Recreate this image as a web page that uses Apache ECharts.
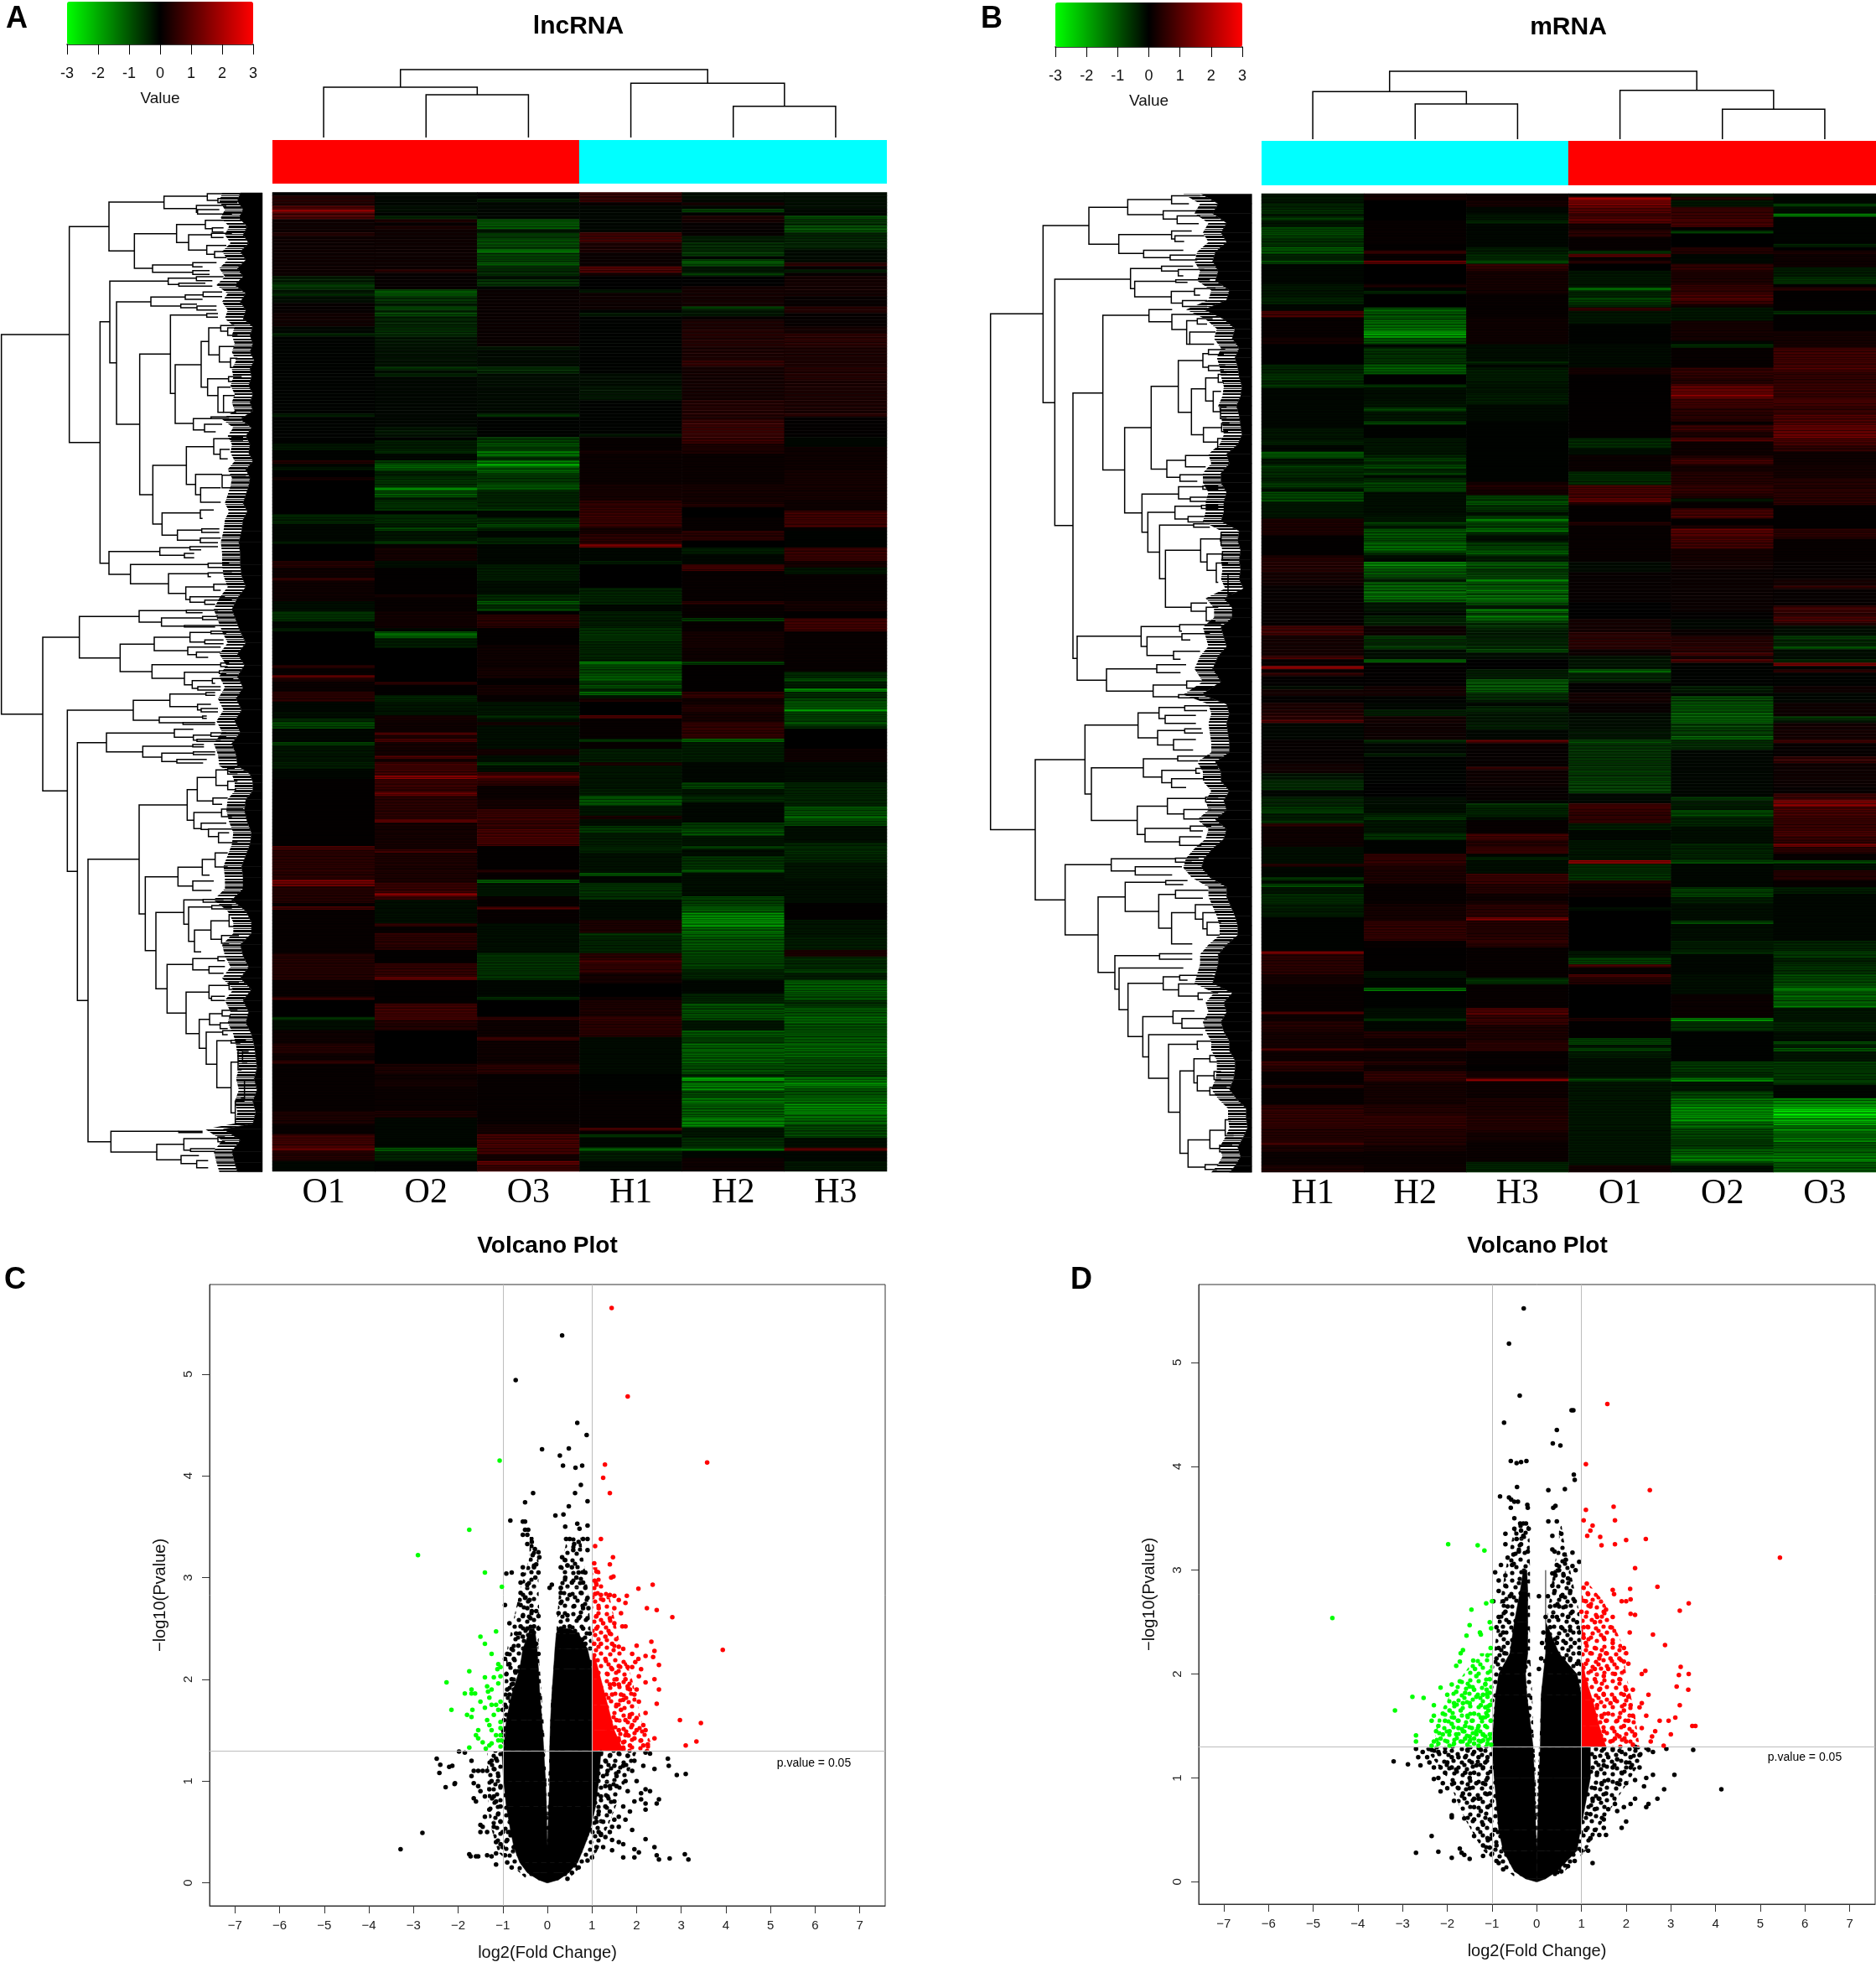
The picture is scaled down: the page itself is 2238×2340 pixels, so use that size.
<!DOCTYPE html>
<html><head><meta charset="utf-8">
<style>html,body{margin:0;padding:0;background:#fff}#c{width:2238px;height:2340px}</style>
<script src="https://cdn.jsdelivr.net/npm/echarts@6/dist/echarts.min.js"></script>
</head><body><div id="c"></div>
<script>
// ---------- heat map values: flat pairs (first row of a band, value), 292 rows per column ----------
const samplesA=['O1','O2','O3','H1','H2','H3'];
const samplesB=['H1','H2','H3','O1','O2','O3'];
const groupsA=['O','O','O','H','H','H'];
const groupsB=['H','H','H','O','O','O'];
const sideValues=[1,1,1,1,1,1];

const A_O1=[0,0,1,.5,4,1,5,2,6,1.1,8,.2,12,.5,13,.2,25,-.4,27,-.8,29,-.3,30,-.6,31,-.2,33,.1,36,.25,40,-.1,42,-.5,43,-.05,66,-.4,67,-.05,75,-.3,77,-.05,80,.5,81,-.1,82,-.3,83,0,85,.3,86,0,96,-.5,99,-.1,104,-.35,105,0,110,.5,112,.2,115,.7,116,.2,122,-.2,125,-.7,128,-.1,130,-.4,131,0,141,.6,142,.1,144,1.4,145,.4,146,.15,149,.6,152,-.1,155,-.2,157,-.6,158,-1,160,-.1,164,-.9,165,-.3,170,-.4,172,-.1,175,.05,195,1,196,.6,205,1.6,207,.5,212,.1,213,1,214,.1,227,.5,235,.1,240,.8,241,0,246,-.7,247,-.2,250,.2,254,.5,257,.2,259,.7,260,.1,274,.4,278,.1,281,.9,285,1.5,286,.5,289,-.1];
const A_O2=[0,-.1,4,-.2,6,-.05,7,-.5,8,.4,9,.1,10,.4,11,.2,23,.6,24,.1,29,-1.2,31,-.7,33,-.4,34,-1,35,-.6,36,-1,37,-.5,40,-.6,43,-.3,46,-.25,52,-.7,53,-.2,54,-.5,55,-.1,70,-.3,73,-.05,74,-.4,77,-.6,78,-.1,80,-.8,81,-1.3,83,-.5,85,-.7,88,-1.9,89,-1,90,-1.3,91,-.4,92,-.7,95,0,96,-.6,99,-.4,100,-.9,101,-.3,104,-.8,105,.1,106,.3,110,-.2,112,.05,120,.3,121,.1,125,.25,130,-.1,131,-1.5,133,-.4,136,0,146,.6,147,.05,150,-.5,152,-.3,156,.3,158,.2,161,1,162,.4,163,1,164,.3,168,1,169,.3,170,.9,174,1.9,175,.8,179,1.6,180,.6,187,1.3,188,.3,196,.9,197,.4,206,.8,209,1.9,210,.8,211,-.2,218,.7,219,.1,221,.7,222,.6,226,.05,230,.7,234,1.4,235,.05,242,.9,247,.5,250,0,260,.4,263,.2,265,.3,267,.15,274,.4,276,-.1,285,-1.3,286,-.5,289,-.05];
const A_O3=[0,0,2,-.4,3,-.1,8,-1.2,11,-.3,12,-.8,14,-1.1,16,-.8,17,-1.7,18,-.9,21,-1.2,22,-.6,25,-.2,26,-.7,28,-.1,29,.15,46,-.3,47,-.15,52,-.6,54,-.2,58,-.15,66,-.7,67,-.05,73,-.9,75,-1.1,76,-.8,77,-1.6,79,-.6,80,-1.7,81,-2.2,82,-1.3,84,-.8,87,-1.2,89,-.5,94,-.8,95,-.1,97,-.6,99,-1,100,-.5,101,-.1,103,-.5,105,-.1,111,-.4,116,-.2,120,-.6,122,-1.2,123,-.6,124,-.9,125,0,126,.6,130,.05,135,.2,142,.3,145,.05,147,.3,150,.1,152,-.3,156,-.6,157,-.2,158,.3,159,-.2,166,.3,168,-.2,170,-.7,171,-.2,173,.8,174,1.4,175,.7,177,.15,181,.3,184,.8,189,.7,190,1,195,.05,202,.5,203,.1,205,-1.3,206,-.3,210,.1,213,1,214,.1,218,-.2,227,-.7,235,-.1,240,-.6,241,0,246,.7,247,.2,252,.9,253,.2,260,.6,263,.1,278,.3,281,1,285,.9,287,.3,289,1.4,290,.8];
const A_H1=[0,.7,3,.1,4,-.1,12,.9,15,.4,18,.15,22,1.1,24,.3,25,0,29,-.3,30,.2,35,-.05,36,-.4,37,-.05,54,-.2,58,-.3,62,-.05,72,-.3,73,.1,77,.3,78,.15,87,.3,92,.7,95,.8,100,.3,102,.6,105,1.9,106,-.1,110,-.4,111,0,118,-.5,123,-.1,125,-.4,130,-.7,134,-.5,140,-1.7,141,-1,144,-1.3,146,-.7,147,-1.1,148,-.5,149,-1.5,150,-.3,151,.4,152,0,156,1.1,157,.1,163,-.7,164,.1,166,-.4,170,.4,171,-.3,178,-.4,180,-1.2,183,-.3,186,.4,187,-.2,189,-.8,191,-.4,195,-.5,197,-.25,203,-1.2,204,-.1,206,-.7,211,-.15,217,.4,221,-.8,222,-.5,227,.6,229,1,230,.7,233,.3,236,0,240,.2,241,.4,246,.8,247,.6,252,-.15,263,-.05,268,.1,279,.9,280,.1,281,-.7,282,-.1,285,-1.4,286,-.4,289,-.1];
const A_H2=[0,-.2,2,-.1,3,.3,4,-.1,5,-.9,6,-.05,7,.4,9,.1,13,-.4,15,-.6,18,-.9,19,-.1,20,-1.2,22,-.3,24,-.8,25,0,28,.3,34,-.9,35,-.3,37,.1,38,.4,41,.5,46,.4,50,.7,52,.3,62,.5,68,.8,75,.4,78,.15,87,.3,93,.5,94,0,97,.1,101,.6,104,0,106,-.4,108,-.1,111,.9,113,.1,122,.6,123,.1,127,-.8,128,.1,131,.3,136,.2,140,-.9,141,.05,149,.7,151,.2,152,.3,153,.5,155,.3,158,.7,163,-1.3,164,-.4,170,-.1,176,-.9,178,-.3,180,-.6,182,-.1,188,-.8,190,-1.1,192,-.3,195,-.8,196,-.2,198,-.7,202,-1.2,203,-.2,210,-.9,213,-1.3,215,-1.9,216,-2,219,-1.5,222,-1.2,226,-1,229,-.9,232,-.5,235,-.1,239,-.5,242,-1.1,247,-.3,250,-1.2,252,-.9,254,-1.4,257,-1.3,260,-1.1,263,-.5,264,-2.4,265,-1.3,266,-1.9,268,-1,270,-1.6,272,-1.3,276,-1.8,278,-2,279,-.3,282,-.6,285,-1.4,286,-.1,288,.2];
const A_H3=[0,-.2,5,-.1,7,-1,8,-.7,10,-1.1,12,-.5,17,-.15,21,.7,22,.1,23,-.4,24,.1,25,.3,31,.1,34,.5,36,.1,40,.3,42,.6,46,.4,52,.5,56,.4,66,.6,67,.05,73,-.1,76,.2,83,.3,92,.2,95,.9,100,.1,101,-.05,106,.8,110,.3,112,-.3,114,.1,122,.3,125,.05,127,.9,131,.1,143,-.6,145,-1,146,-.4,148,-1.8,149,-.6,151,-1,152,-1.2,154,-2,155,-.9,158,-1.1,159,-.7,160,0,166,.2,170,-.15,176,-.5,183,-1.1,186,-1.5,187,-1,189,-.2,194,-.6,198,-.5,200,-.3,205,-.2,212,.05,217,-.3,222,-.4,226,.4,228,-.6,232,-.9,233,-.4,235,-1.3,239,-1.1,241,-.7,243,-1.2,246,-1.4,248,-1.1,250,-1.2,253,-1.4,258,-1.1,262,-.8,264,-1.5,265,-1.9,267,-1.2,270,-1.5,272,-1.9,275,-1.5,278,-1,282,-.2,285,1.3,286,-.1,289,-.3];
const B_H1=[0,-.3,3,-.5,5,-.7,6,-.3,7,-.9,8,-.3,10,-1,13,-.7,16,-1.2,18,-.5,20,-1.1,21,-.1,27,-.3,31,-.5,33,-.1,35,1,37,.1,43,.3,45,0,51,-.5,54,-.7,56,-.5,57,-.8,58,-.1,70,-.3,74,-.5,75,-.1,77,-1.2,79,-.3,81,-.9,82,-.6,85,-.4,86,-.8,88,-.2,89,-1,92,-.3,97,.4,102,.05,108,.5,113,.3,117,.1,129,.9,132,.3,138,1,139,.1,141,2,142,.1,143,.8,144,.05,147,-.2,148,.3,150,.05,152,.4,155,.6,157,1.1,158,-.1,163,.1,170,.25,173,-.3,175,-.6,178,-.1,180,-.5,183,-.7,184,-.9,185,-.4,187,-.7,188,.6,189,.2,195,-.2,200,.5,201,-.1,204,-.7,205,-.2,206,-1,207,-.3,209,-.6,212,-.4,216,-.05,226,1.6,227,.6,233,.3,236,.1,244,1,245,.2,247,.5,250,.3,255,1,256,.2,259,.9,260,.6,262,.1,266,.6,267,.1,272,.7,279,.5,283,.9,284,.4,286,.15,290,.4];
const B_H2=[0,.3,2,0,8,.1,15,.05,17,.8,18,.1,20,1.4,21,0,27,.4,28,-.05,29,-.5,30,0,34,-1.3,36,-1.2,38,-1.5,41,-2.3,43,-1.2,45,-.1,46,-.7,51,-1.2,52,-1.3,53,-1.2,54,0,57,-.7,58,-.2,62,-.3,64,-1,65,-.3,68,-1,69,-.05,73,-.3,78,-.5,79,-.9,80,-.5,81,-1.1,82,-.5,83,-.9,84,-.2,85,-.6,86,-1,87,-.8,88,-1,89,-.2,96,-.3,98,-.9,99,-.3,100,-1.2,103,-1,104,-1.4,106,-1.6,107,-.6,108,-.2,109,-.1,110,-1.9,111,-1.5,112,-1.2,114,-1,115,-.4,116,-1.3,118,-1.5,121,-1.3,122,-.3,125,-.1,126,-.5,129,.2,132,-.8,133,-.6,134,-.5,135,-.9,136,-.2,139,-1.3,140,.05,147,.3,150,-.05,152,-.1,154,-.4,156,.3,158,.2,163,-.6,164,-.1,167,-.4,168,-.05,176,0,180,-.2,185,-.5,186,-.7,187,-.3,191,-.7,193,-.05,197,.7,200,.6,201,.4,206,.1,212,.3,217,.7,223,.1,225,.05,232,-.3,234,-.1,237,-1.5,238,-.05,243,-.2,246,-.6,247,-.1,250,.5,252,.2,255,.7,256,.2,259,.6,260,.2,262,.7,265,.3,272,.5,275,.7,279,.5,284,.3,286,.15,290,.2];
const B_H3=[0,.2,2,.3,4,-.1,6,-.3,8,-.5,9,-.1,16,-.4,18,-.6,20,-1,21,.7,23,.3,30,.1,37,.2,45,-.2,50,-.5,51,-.1,52,-.4,56,-.3,60,-.4,63,-.15,68,-.05,86,.3,87,.5,88,.3,90,-.9,92,-1.2,93,-.7,95,-.2,96,-.8,97,-1.7,98,-.9,100,-1.6,101,-.6,102,-.2,104,-.9,106,-1.1,107,-1.3,108,-.4,110,-1.3,111,-1.1,112,-.7,113,-.9,115,-1.7,116,-1.2,118,-1.6,119,-1.2,120,-1.5,122,-1,123,-.3,124,-1.7,125,-.9,126,-1.7,127,-1.1,128,-.7,130,-.4,133,-.5,135,-.6,136,-1,137,-.2,139,0,142,-.4,145,-1.2,149,-.6,151,-.4,152,-.1,153,-.5,155,-.3,158,-.4,160,-.1,163,1.4,164,.1,171,.7,172,.2,177,.1,181,-.1,182,-.7,183,-.5,186,-.2,187,.1,191,.9,193,.5,195,.8,197,-.1,198,-.5,199,-.2,203,.8,206,.5,209,.2,211,.3,212,.6,216,1.7,217,.5,222,.7,224,.5,225,.1,234,-.7,236,.1,243,1,244,1.2,245,.8,248,.4,253,.6,256,.1,260,.05,262,.3,264,1.8,265,.2,270,.4,275,.5,280,.3,283,.15,289,-.5];
const B_O1=[0,-.05,1,2.2,2,1.7,4,1.2,6,.8,7,1.2,9,.3,11,.6,13,.1,17,-.7,18,1.2,19,.1,20,.6,21,0,23,-.3,28,-1.5,29,-.5,31,-.9,33,-.5,34,.7,35,-.3,39,-.05,45,-.15,52,.3,54,.05,73,-.6,76,-.2,78,.15,83,-.6,87,1,90,.9,91,1.6,92,.5,93,.05,98,.5,99,.1,110,-.15,113,.1,122,0,127,.3,131,.6,136,.2,138,-.3,142,-1.4,143,-.5,146,.05,149,.3,152,.1,155,-.2,160,-.3,163,-1,164,-.7,172,-.8,175,-.9,179,-.1,182,.9,184,.7,188,-.4,190,-.1,193,-.3,199,1.9,200,-.6,203,-.7,205,.6,206,.2,210,0,213,-.2,214,0,226,-.3,228,-.9,230,1,231,.1,233,1,234,.5,236,0,246,.4,247,.05,252,-.9,254,-.3,255,-1,256,-.4,258,-.2,264,-1,265,-.3,290,.3];
const B_O2=[0,-.4,1,.6,2,-.3,4,.8,7,1,10,.05,11,-.8,12,0,16,.5,18,-.1,21,.7,23,.4,27,.7,30,1.1,32,.8,33,.3,34,-.3,38,.3,44,-.1,45,-.7,46,.1,52,.7,55,.5,57,1.4,60,1.9,61,.9,64,.6,68,.1,69,.8,71,.4,73,1.2,74,.2,78,.4,79,.9,81,.3,83,.5,87,.7,90,.4,91,-.3,92,.1,94,1,97,.05,99,.4,100,1.3,102,1,104,.9,106,.3,112,.15,125,.05,127,-.1,130,.15,132,.5,135,.6,137,.9,138,.3,139,1.2,140,-.05,147,-.4,149,-.1,150,-1,152,-1.1,155,-1.3,158,-.9,162,-1.3,163,-.6,166,-.1,180,-.8,181,-.4,184,-1,186,-.5,189,-.2,194,-.5,199,-1,200,-.1,207,-.9,210,-.4,212,-.2,217,-1,218,-.2,223,-.4,226,-.6,227,-.1,233,-.2,239,.15,246,-1.9,247,-.7,250,-.05,259,-.8,262,-.6,264,-2,265,-.3,268,-1,270,-1.5,272,-2,277,-1.5,279,-1,282,-.8,285,-1.3,287,-1.7,289,-1,290,-.2];
const B_O3=[0,-.1,3,-.9,4,-.2,6,-1.7,7,-.05,15,-.5,16,0,17,.4,18,.2,22,-.4,25,-.7,27,.05,28,.6,29,.05,35,-.7,36,.05,41,.3,46,.9,52,1.2,53,.7,57,.8,60,.7,61,1,63,.8,66,1.1,68,1,69,1.4,72,1.6,73,1,75,.7,77,.2,81,.3,85,.5,88,.6,93,.05,100,.6,103,.1,115,.3,117,.7,118,.1,123,.9,125,.6,126,1,128,.5,129,-.2,132,-.8,133,-.5,135,-1.1,136,-.2,139,-.5,140,1.7,141,-.05,142,.6,143,-.05,147,.2,149,-.1,152,.2,156,-.8,157,-.3,158,.3,163,.9,164,.1,168,.7,170,.2,177,.1,179,.8,181,1.9,183,1,186,.8,190,1,192,.7,194,1.5,195,.6,197,.1,199,-1,200,-.2,202,.5,205,.1,207,-.4,209,-.1,223,-.5,226,-.8,228,-.5,230,-.7,233,-1,236,-1.2,237,-1.9,238,-1.2,239,-1.4,242,-1.6,243,-.3,247,-.5,250,-.2,253,-1,254,-.4,255,-1.3,256,-.3,259,-.8,264,-.9,266,-.1,270,-1.9,272,-2.4,273,-3,276,-2.4,278,-1.5,279,-2,280,-1.4,282,-1.9,283,-1.2,285,-1.4,287,-1.9,289,-1.2];
const ROWS=292;

// ---------- column dendrograms: [x1,h1,x2,h2,mergeHeight] ----------
const colTreeA=[[1,0,2,0,.63],[0,0,1.5,.63,.74],[4,0,5,0,.46],[3,0,4.5,.46,.80],[.75,.74,3.75,.80,1]];
const colTreeB=[[1,0,2,0,.52],[0,0,1.5,.52,.70],[4,0,5,0,.44],[3,0,4.5,.44,.72],[.75,.70,3.75,.72,1]];

// ---------- row dendrograms: [mergeX, y1, childX1, y2, childX2] in tree units ----------
const rowTreeA=[[5,537,248,1895,153],[248,151,390,923,358],[390,63,587,238,481],[587,42,742,86,703],[742,33,800,57,780],[780,50,860,65,850],[703,75,810,100,707],[707,90,785,106,830],[481,176,632,300,546],[632,143,735,208,675],[735,128,800,158,760],[760,155,800,170,800],[675,180,757,235,740],[757,175,830,190,800],[740,218,810,250,768],[768,240,830,262,810],[546,288,690,314,690],[690,280,775,295,725],[690,308,750,322,750],[358,491,393,1355,390],[393,346,602,638,417],[602,335,703,358,640],[703,330,800,344,760],[640,353,735,364,760],[417,420,540,858,500],[540,403,663,435,647],[663,395,727,411,725],[727,385,795,401,795],[647,428,705,441,705],[705,435,775,449,775],[500,607,610,1110,547],[610,467,740,748,627],[740,462,780,475,780],[627,645,720,855,692],[720,562,747,725,743],[747,513,790,610,785],[790,505,838,525,815],[815,513,850,540,850],[785,580,838,635,825],[825,622,850,655,842],[743,695,818,755,780],[818,688,865,705,855],[780,725,825,815,800],[800,755,840,815,845],[692,838,755,878,732],[755,832,820,838,820],[732,858,795,885,772],[547,1005,667,1215,580],[667,938,765,1073,700],[765,910,830,965,788],[830,905,870,915,870],[788,948,822,982,815],[700,1037,795,1110,718],[795,1040,880,1085,870],[718,1085,790,1137,790],[580,1175,717,1255,635],[717,1165,765,1195,725],[635,1237,722,1273,717],[722,1232,785,1245,785],[717,1265,790,1282,780],[390,1313,572,1395,467],[572,1300,680,1327,660],[680,1296,780,1307,720],[660,1320,695,1336,695],[467,1360,745,1429,603],[745,1355,820,1370,805],[603,1393,745,1463,665],[745,1390,830,1403,755],[665,1440,765,1485,680],[765,1430,840,1452,790],[680,1475,805,1495,733],[733,1487,830,1502,770],[153,1620,284,2170,240],[284,1546,498,1694,430],[498,1525,667,1566,578],[667,1523,780,1532,725],[578,1551,725,1580,660],[725,1546,780,1557,780],[660,1578,790,1583,770],[430,1645,552,1743,544],[552,1620,680,1668,672],[680,1603,755,1637,733],[755,1598,815,1607,810],[733,1630,800,1643,800],[672,1655,790,1682,703],[703,1673,790,1692,745],[544,1718,790,1767,660],[790,1712,820,1725,815],[660,1745,785,1790,688],[785,1740,810,1750,810],[688,1775,760,1803,708],[760,1768,835,1785,770],[708,1797,790,1809,790],[241,1881,477,2458,277],[477,1846,608,1917,570],[608,1823,737,1868,707],[737,1818,770,1828,770],[707,1860,755,1880,720],[720,1875,780,1887,780],[570,1906,725,1926,655],[725,1902,740,1910,740],[655,1925,770,1932,770],[277,1997,381,2920,315],[381,1963,624,2030,511],[624,1949,692,1978,692],[692,1970,755,1988,705],[755,1962,810,1975,810],[705,1985,790,1993,790],[511,2010,690,2049,579],[690,2004,730,2012,730],[579,2035,692,2065,633],[692,2030,770,2040,770],[633,2057,740,2070,727],[315,2414,498,3425,397],[498,2220,670,2610,520],[670,2165,706,2275,694],[706,2122,773,2206,762],[773,2095,815,2150,815],[815,2090,840,2110,850],[815,2135,850,2165,845],[762,2195,815,2218,795],[694,2247,793,2305,720],[793,2235,870,2262,830],[720,2285,810,2308,746],[746,2306,850,2333,782],[782,2320,820,2355,850],[770,2392,815,2442,815],[724,2415,770,2471,750],[637,2443,724,2510,690],[690,2492,765,2526,757],[520,2477,637,2741,558],[558,2605,658,2878,598],[658,2560,727,2647,675],[727,2558,800,2568,790],[675,2585,758,2708,696],[758,2580,830,2592,830],[696,2668,755,2746,720],[755,2635,820,2701,793],[820,2612,850,2655,848],[793,2687,855,2715,820],[598,2791,690,2965,666],[690,2770,780,2810,748],[780,2763,850,2777,805],[748,2798,805,2822,800],[666,2890,748,3038,713],[748,2866,820,2912,757],[820,2853,855,2880,840],[757,2905,805,2920,805],[713,2987,750,3091,738],[750,2967,795,3007,788],[795,2955,850,2975,825],[788,3000,830,3020,815],[738,3033,797,3148,776],[797,3028,880,3042,815],[776,3064,827,3232,827],[827,3062,880,3072,860],[827,3140,852,3322,842],[852,3100,868,3168,865],[868,3102,890,3140,885],[842,3281,875,3360,845],[875,3205,900,3270,862],[397,3388,640,3462,561],[640,3388,725,3392,725],[561,3434,658,3490,648],[658,3414,780,3455,682],[780,3408,805,3425,805],[682,3450,770,3460,770],[648,3475,712,3503,704],[704,3493,745,3518,745]];
const rowTreeB=[[35,403,223,2011,195],[223,128,387,680,265],[387,71,526,186,494],[526,47,683,94,653],[683,35,785,60,745],[653,82,860,108,703],[703,98,785,122,780],[494,156,683,215,583],[683,145,755,170,695],[695,160,800,178,728],[583,205,725,228,678],[678,220,770,235,775],[265,295,536,1063,330],[536,262,647,325,551],[647,255,760,270,707],[707,265,800,285,725],[551,302,698,350,682],[698,297,820,305,740],[682,333,765,370,722],[765,325,840,345,785],[722,362,810,380,810],[330,650,437,1477,345],[437,408,602,890,515],[602,390,685,428,684],[684,405,830,452,737],[737,425,775,498,748],[775,418,830,435,810],[748,460,840,498,835],[515,758,610,1024,577],[610,629,707,887,666],[707,549,795,710,754],[795,527,815,570,815],[815,515,875,530,870],[815,565,875,580,870],[754,637,805,780,797],[805,603,850,675,832],[850,592,880,617,870],[832,645,860,708,858],[858,695,880,730,880],[797,758,862,803,848],[862,745,890,770,885],[848,792,880,825,880],[666,860,733,913,713],[733,845,830,880,805],[713,905,810,925,775],[577,965,708,1084,598],[708,942,795,980,750],[795,940,850,950,850],[750,975,850,988,850],[598,1022,695,1146,640],[695,1003,790,1043,742],[790,1000,850,1010,850],[742,1035,800,1052,800],[640,1062,762,1229,661],[762,1058,820,1068,820],[661,1140,787,1318,753],[787,1105,860,1177,810],[860,1085,905,1125,890],[810,1152,865,1203,843],[865,1145,890,1170,890],[843,1180,885,1240,850],[885,1215,915,1280,920],[753,1305,810,1330,807],[807,1318,850,1360,840],[345,1408,574,1545,450],[574,1378,712,1440,595],[712,1372,860,1392,720],[720,1400,820,1420,750],[595,1410,720,1468,690],[690,1455,785,1480,715],[450,1510,630,1579,617],[630,1497,735,1522,715],[617,1560,737,1597,708],[737,1548,825,1570,845],[708,1590,800,1600,780],[195,1793,373,2230,302],[373,1685,563,1900,396],[563,1647,638,1725,633],[638,1630,730,1665,660],[730,1625,830,1640,810],[660,1655,770,1680,770],[633,1702,730,1747,690],[730,1697,790,1710,795],[690,1730,770,1763,760],[396,1818,582,1982,560],[582,1790,705,1847,648],[705,1782,820,1797,778],[648,1826,770,1865,683],[770,1820,850,1835,785],[683,1852,800,1880,735],[560,1938,668,2026,588],[668,1914,805,1962,727],[805,1910,850,1925,825],[727,1948,825,1978,795],[588,2007,750,2049,712],[750,2000,825,2015,795],[712,2033,790,2060,790],[302,2120,467,2339,420],[467,2102,697,2140,553],[697,2100,780,2112,755],[553,2127,720,2152,685],[420,2221,517,2456,480],[517,2175,662,2266,637],[662,2170,740,2182,725],[637,2213,697,2318,683],[697,2200,815,2225,795],[683,2270,768,2367,757],[768,2245,830,2290,795],[795,2270,850,2320,810],[810,2300,860,2340,855],[480,2404,640,2508,495],[640,2398,757,2415,757],[495,2442,725,2572,527],[527,2490,653,2656,580],[653,2470,712,2510,708],[712,2465,830,2480,740],[708,2492,775,2530,778],[778,2520,850,2540,795],[580,2594,688,2719,601],[688,2576,765,2615,720],[720,2600,810,2630,805],[601,2650,795,2786,672],[672,2680,775,2892,713],[775,2670,885,2695,780],[713,2763,763,3020,742],[763,2725,820,2800,775],[820,2715,855,2735,855],[775,2778,835,2825,820],[835,2765,860,2790,860],[820,2815,880,2838,875],[742,2978,820,3063,803],[820,2948,875,3005,855],[875,2915,895,2965,905],[855,2995,900,3015,880],[803,3055,850,3070,845]];
// dense leaf block of each row dendrogram: [y, left edge x]
const leavesA=[[30,860],[60,850],[90,870],[120,855],[150,885],[180,870],[210,890],[240,860],[270,880],[300,850],[330,870],[360,840],[390,880],[420,860],[450,880],[480,870],[510,905],[540,895],[570,905],[600,895],[630,910],[660,895],[690,900],[720,890],[750,905],[780,895],[810,905],[840,860],[870,900],[900,880],[930,895],[960,890],[990,905],[1020,880],[1050,895],[1080,890],[1110,880],[1140,870],[1170,885],[1200,870],[1240,865],[1280,855],[1320,860],[1360,860],[1400,865],[1440,880],[1480,850],[1520,830],[1560,845],[1600,860],[1640,880],[1680,850],[1720,875],[1760,850],[1800,870],[1840,845],[1880,865],[1920,840],[1960,860],[2000,830],[2040,845],[2080,850],[2110,895],[2140,905],[2170,905],[2200,880],[2240,875],[2280,885],[2320,900],[2360,895],[2400,880],[2440,865],[2480,870],[2520,870],[2560,830],[2600,880],[2640,900],[2680,900],[2720,860],[2760,870],[2800,890],[2840,860],[2880,900],[2920,870],[2960,890],[3000,880],[3040,900],[3080,910],[3120,915],[3160,920],[3200,910],[3240,920],[3280,905],[3320,915],[3360,905],[3380,800],[3420,860],[3460,830],[3500,840],[3533,850]];
const leavesB=[[30,790],[60,850],[90,830],[120,880],[150,860],[180,880],[210,840],[240,830],[270,850],[300,840],[330,890],[360,880],[390,800],[420,870],[450,910],[480,900],[510,925],[540,910],[570,920],[600,925],[630,935],[660,930],[690,915],[720,925],[750,930],[780,935],[810,920],[840,880],[870,890],[900,860],[930,860],[960,880],[990,870],[1020,870],[1050,860],[1080,925],[1110,920],[1140,930],[1170,925],[1200,930],[1230,925],[1260,940],[1290,870],[1320,900],[1350,900],[1380,860],[1410,870],[1440,880],[1470,850],[1510,830],[1550,860],[1590,790],[1620,880],[1650,890],[1680,880],[1710,885],[1740,890],[1770,890],[1800,840],[1830,860],[1860,860],[1890,890],[1920,870],[1950,880],[1980,840],[2010,880],[2040,870],[2070,830],[2100,800],[2130,790],[2160,820],[2190,880],[2220,880],[2250,895],[2280,910],[2310,920],[2340,920],[2370,880],[2400,850],[2430,850],[2460,840],[2490,830],[2520,900],[2550,870],[2580,880],[2610,860],[2640,870],[2670,890],[2700,890],[2730,910],[2760,910],[2790,905],[2820,890],[2850,915],[2880,950],[2910,950],[2940,955],[2970,940],[3000,920],[3030,930],[3060,910],[3079,890]];

// ---------- volcano plots ----------
const ticksX=[-7,-6,-5,-4,-3,-2,-1,0,1,2,3,4,5,6,7];
const ticksY=[0,1,2,3,4,5];
const foldCut=[-1,1];
const pCut=1.3;
// dense core of the black cloud: [y, left outer, left inner, right inner, right outer]
const coreC=[[0,-.02,0,0,.02],[.03,-.2,0,0,.25],[.1,-.45,0,0,.48],[.2,-.62,0,0,.68],[.35,-.75,0,0,.82],[.5,-.82,-.01,.01,.95],[.75,-.92,-.02,.03,1.08],[1,-.98,-.04,.05,1.15],[1.29,-1.02,-.08,.05,1.2],[1.3,-.98,-.08,.05,1],[1.6,-.92,-.12,.07,1],[1.85,-.8,-.17,.1,1],[2.1,-.62,-.2,.14,1],[2.3,-.55,-.23,.17,.9],[2.45,-.42,-.27,.2,.7],[2.5,-.4,-.3,.25,.5]];
const coreD=[[0,-.02,0,0,.02],[.03,-.25,0,0,.2],[.1,-.5,0,0,.45],[.3,-.75,0,0,.9],[.5,-.85,-.02,.02,.98],[1,-.95,-.05,.05,1.2],[1.29,-1,-.08,.08,1.2],[1.3,-1,-.08,.08,1],[1.8,-.92,-.22,.1,1],[2,-.85,-.25,.15,.9],[2.2,-.6,-.2,.2,.5],[2.5,-.5,-.2,.2,.2],[2.8,-.37,-.2,.2,.2],[3,-.3,-.22,.2,.2]];
// thinner scatter around the core: same columns
const haloC=[[.05,-.5,0,0,.5],[.3,-1.1,0,0,1.1],[.6,-1.3,0,0,1.4],[1,-1.35,-.02,.02,1.75],[1.29,-1.35,-.05,.05,2],[1.3,-1.05,-.05,.05,1],[1.7,-1,-.1,.07,1],[2,-.95,-.15,.12,1],[2.3,-.9,-.2,.18,1],[2.6,-.75,-.18,.22,.95],[2.9,-.6,-.2,.27,.9],[3.2,-.4,-.2,.35,.8],[3.4,-.4,-.3,.45,.75]];
const haloD=[[.05,-.5,0,0,.5],[.3,-1.2,0,0,1.1],[.6,-1.6,0,0,1.5],[1,-2,-.02,.02,2.1],[1.29,-2.5,-.05,.05,2.5],[1.3,-1,-.06,.06,1],[1.8,-1,-.1,.1,1],[2.2,-.95,-.15,.15,1],[2.6,-.85,-.15,.25,.95],[3,-.7,-.15,.38,.75],[3.3,-.55,-.16,.5,.6],[3.45,-.45,-.18,.5,.55]];
// dense core of the red cloud: [y, left, right]
const redCoreC=[[1.3,1,1.7],[1.5,1,1.5],[1.75,1,1.35],[2,1,1.2],[2.25,1,1.05]];
const redCoreD=[[1.3,1,1.55],[1.5,1,1.4],[1.75,1,1.25],[1.95,1,1.1],[2.1,1,1.04]];
const redHaloC=[[1.3,1,2.4],[1.6,1,2.1],[2,1,1.9],[2.4,1,1.6],[2.8,1,1.4],[3.1,1,1.15]];
const redHaloD=[[1.3,1,2.3],[1.6,1,2.2],[2,1,2],[2.3,1,1.9],[2.7,1,1.5],[2.85,1,1.2]];
const greenHaloD=[[1.3,-2.3,-1],[1.6,-2.2,-1],[1.9,-1.8,-1],[2.2,-1.3,-1]];
const redC=[[1.44,5.65],[1.8,4.78],[3.58,4.13],[1.29,4.11],[1.25,3.98],[1.4,3.83],[1.2,3.38],[1.07,3.31],[1.47,3.2],[1.05,3.14],[1.4,3.13],[1.1,3.06],[1.43,3],[1.48,3.01],[1.06,2.97],[1.1,2.93],[2.36,2.93],[2.04,2.89],[1.07,2.84],[1.2,2.83],[1.4,2.83],[1.5,2.82],[1.78,2.82],[1.25,2.78],[1.6,2.78],[1.75,2.75],[2.23,2.7],[2.45,2.68],[2.8,2.61],[1.15,2.7],[1.5,2.7],[1.65,2.65],[1.1,2.62],[1.4,2.6],[1.5,2.55],[1.75,2.52],[1.68,2.52],[1.25,2.55],[1.1,2.5],[1.4,2.45],[1.3,2.42],[2,2.33],[2.33,2.37],[2.4,2.28],[3.93,2.29],[1.6,2.32],[1.45,2.35],[1.2,2.35],[1.05,2.35],[1.7,2.3],[1.9,2.25],[2.2,2.23],[2.37,2.22],[2.5,2.14],[2.04,2.2],[1.97,2.17],[1.9,2.12],[1.8,2.12],[1.6,2.13],[1.3,2.2],[1.55,2],[2.1,2.1],[2.4,2],[2.2,1.97],[2.05,2.03],[1.75,2],[1.8,1.93],[1.85,1.9],[2,1.9],[2.5,1.9],[2.45,1.76],[2.05,1.78],[1.95,1.85],[1.7,1.8],[2.2,1.67],[2,1.62],[1.85,1.65],[1.75,1.6],[2.97,1.6],[3.44,1.57],[3.34,1.39],[3.1,1.35],[2.2,1.5],[2,1.5],[2.15,1.55],[1.95,1.42],[2.1,1.4],[2.25,1.36],[2.15,1.35],[2.4,1.42],[1.85,1.35],[1.7,1.38],[1.8,1.45],[1.9,1.55],[1.6,1.5],[1.55,1.75],[1.6,1.95],[1.45,1.85],[1.7,1.33],[1.45,2.1],[1.35,2.05],[1.5,1.95],[1.65,1.85],[1.4,1.95],[1.55,1.6],[1.65,1.7],[1.75,1.45],[1.6,1.4]];
const greenC=[[-1.07,4.15],[-1.75,3.47],[-2.9,3.22],[-1.4,3.05],[-1.02,2.91],[-1.5,2.42],[-1.4,2.35],[-1.15,2.47],[-1.25,2.25],[-1.1,2.15],[-1.05,2.12],[-1.12,2.1],[-1.75,2.08],[-1.4,2.02],[-1.2,2.02],[-1.05,2.03],[-2.26,1.97],[-1.35,1.93],[-1.1,1.96],[-1.25,1.9],[-1.7,1.9],[-1.85,1.86],[-1.7,1.86],[-1.62,1.86],[-1.33,1.88],[-1.3,1.82],[-1.5,1.78],[-1.25,1.75],[-1.15,1.75],[-1.05,1.78],[-1.4,1.72],[-2.15,1.7],[-1.68,1.7],[-1.1,1.7],[-1.2,1.65],[-1.7,1.63],[-1.8,1.65],[-1.35,1.6],[-1.05,1.58],[-1.05,1.52],[-1.3,1.55],[-1.25,1.5],[-1.55,1.5],[-1.6,1.45],[-1.55,1.42],[-1.15,1.45],[-1.05,1.45],[-1.03,1.4],[-1.1,1.4],[-1.25,1.37],[-1.45,1.38],[-1.3,1.35],[-1.75,1.33],[-1.05,1.34],[-1.38,1.32]];
const blackC=[[.33,5.38],[-.71,4.94],[.67,4.52],[.88,4.4],[-.12,4.26],[.48,4.27],[.28,4.2],[.35,4.1],[.78,4.1],[.63,4.08],[.75,3.91],[-.32,3.83],[.62,3.83],[-.5,3.74],[.9,3.75],[.48,3.7],[.18,3.61],[.36,3.62],[-.83,3.56],[-.55,3.55],[-.5,3.55],[.4,3.5],[.67,3.53],[.72,3.48],[.9,3.51],[-.5,3.47],[-.43,3.47],[-.55,3.42],[-.45,3.42],[.42,3.38],[.5,3.38],[.8,3.38],[.9,3.38],[.7,3.35],[.6,3.33],[-.35,3.35],[-.45,3.33],[.58,3.27],[.9,3.27],[-.28,3.28],[-.2,3.25],[-.33,3.22],[-.18,3.2],[.33,3.2],[.4,3.17],[.3,3.1],[-.25,3.13],[-.3,3.1],[-.55,3.1],[.45,3.12],[.55,3.1],[.7,3.05],[-.8,3.05],[-.92,3.04],[-.55,3.03],[-.2,3.05],[-.27,3],[.4,3],[.65,3],[.85,3.05],[.8,2.95],[.1,2.93],[.55,2.95],[.05,2.9],[.3,2.9],[.85,2.9],[-.6,2.95],[-.45,2.93],[-.6,2.85],[-.5,2.8],[-.4,2.78],[.3,2.85],[.5,2.83],[.75,2.85],[.9,2.8],[-.95,2.73],[-.6,2.73],[-.45,2.7],[-.35,2.67],[-.25,2.67],[.3,2.75],[.6,2.72],[.8,2.7],[.92,2.7],[-.55,2.62],[-.38,2.6],[-.2,2.62],[.25,2.65],[.45,2.63],[.7,2.6],[.9,2.6],[-.85,2.55],[-.6,2.52],[-.45,2.5],[-.3,2.52],[-.2,2.5],[.3,2.5],[.5,2.52],[.8,2.5],[.95,2.45],[-.7,2.45],[-.55,2.42],[-.35,2.42],[-.25,2.35],[.25,2.4],[.4,2.35],[.65,2.42],[.85,2.35],[-.8,2.3],[-.65,2.33],[-.5,2.3],[-.4,2.28],[-.2,2.25],[-.9,2.25],[-.85,2.15],[-.95,2.2],[-.75,2.2],[-.92,2.05],[-.8,2],[-.72,2.08],[-.9,1.9],[-.85,1.85],[-.8,1.95],[-.75,1.9],[-.95,1.75],[-1,1.7],[-.97,1.6],[-.99,1.5],[-1,1.45],[-.96,1.38],[-2.48,1.22],[-2.4,1.16],[-2.42,1.08],[-2.2,1.14],[-2.13,1.15],[-2.28,.94],[-2.07,.98],[-2.08,.97],[-1.98,1.29],[-1.85,1.28],[-1.7,1.2],[-1.65,1.1],[-1.55,1.1],[-1.45,1.1],[-1.35,1.1],[-1.7,1.05],[-1.65,.98],[-1.55,.95],[-1.5,.9],[-1.65,.83],[-1.6,.8],[-1.4,.85],[-1.3,.92],[-1.25,1],[-1.2,1.12],[-1.15,1.22],[-1.25,1.2],[-1.1,1.05],[-1.2,.85],[-1.15,.8],[-1.05,.95],[-1.3,.72],[-1.4,.65],[-1.5,.57],[-1.45,.55],[-1.5,.5],[-1.35,.5],[-1.2,.55],[-1.1,.68],[-1.05,.75],[-1.05,.6],[-1,.5],[-1.15,.4],[-1.05,.38],[-1,.35],[-1.75,.28],[-1.72,.26],[-1.6,.26],[-1.55,.26],[-1.35,.27],[-1.25,.26],[-1.15,.29],[-1.15,.18],[-.95,.27],[-.9,.2],[-.8,.15],[-.75,.35],[-3.29,.33],[-2.8,.49],[-.9,.42],[-.85,.5],[1.2,1.28],[1.4,1.25],[1.6,1.27],[1.8,1.25],[2.2,1.28],[2.3,1.27],[2.7,1.22],[2.72,1.15],[2.4,1.12],[2.9,1.06],[3.1,1.07],[2.15,1.15],[1.95,1.2],[1.7,1.15],[1.5,1.15],[1.9,1.1],[1.55,1.05],[1.35,1.1],[1.75,1],[2,1],[2.2,.92],[2.3,.9],[2.1,.88],[1.8,.9],[1.55,.95],[1.4,.95],[2.1,.82],[1.95,.8],[2.5,.82],[2.45,.78],[2.2,.78],[2.2,.72],[1.85,.7],[1.7,.75],[1.5,.8],[1.35,.85],[1.6,.65],[1.75,.62],[1.4,.7],[1.3,.75],[1.25,.6],[1.45,.55],[1.5,.62],[1.6,.55],[1.9,.52],[1.15,.5],[1.2,.47],[1.3,.45],[1.4,.5],[2.2,.43],[1.6,.4],[1.45,.42],[1.7,.38],[1.1,.35],[1.25,.35],[1.95,.33],[1.45,.32],[2.4,.35],[2.05,.3],[1.7,.25],[1,.25],[1.95,.25],[2.45,.27],[2.5,.23],[2.74,.24],[3.08,.28],[3.16,.23],[.9,.22],[.7,.15],[.45,.04],[.55,.1],[1.3,1.2],[1.25,1.05],[1.3,.95],[1.2,.85],[1.15,.7],[1.1,.6]];
const redD=[[5.44,3.12],[1.58,4.6],[1.1,4.02],[2.53,3.77],[1.72,3.61],[1.1,3.58],[1.05,3.48],[1.75,3.48],[1.25,3.43],[1.2,3.38],[1.13,3.33],[1.42,3.32],[1.45,3.24],[1.75,3.25],[2,3.29],[2.44,3.3],[2.2,3.02],[2.7,2.84],[1.05,2.83],[1.12,2.87],[1.7,2.81],[1.73,2.77],[2.09,2.82],[1.15,2.77],[3.4,2.68],[3.2,2.61],[1.9,2.7],[2,2.7],[2.1,2.72],[1.1,2.7],[1.2,2.65],[1.55,2.62],[1.35,2.55],[1.5,2.6],[2.1,2.58],[2.2,2.57],[1.7,2.55],[1,2.6],[1.3,2.5],[1.65,2.45],[1.15,2.45],[1.05,2.45],[2.6,2.38],[2.08,2.4],[1.05,2.35],[1.1,2.3],[1.5,2.35],[1.7,2.3],[1.3,2.25],[2.87,2.28],[1.95,2.25],[2,2.2],[1.55,2.2],[1.2,2.2],[1.4,2.15],[1.65,2.15],[1.85,2.15],[1.95,2.12],[2.05,2.1],[1.1,2.1],[1.3,2.05],[1.6,2.05],[3.22,2.07],[2.35,2],[2.43,2.03],[3.18,1.99],[3.4,2],[1.75,2],[1.85,1.95],[1.3,1.95],[1.5,1.98],[3.13,1.88],[3.39,1.85],[2,1.85],[2.15,1.85],[1.95,1.8],[2.05,1.78],[2.5,1.8],[1.75,1.75],[1.65,1.72],[2.35,1.72],[2.3,1.68],[2.1,1.7],[3.2,1.7],[1.95,1.65],[3.1,1.58],[2.95,1.55],[2.75,1.55],[2.45,1.6],[2.15,1.6],[2.05,1.55],[1.95,1.5],[1.8,1.55],[3.48,1.5],[3.55,1.5],[2.35,1.48],[2.65,1.45],[2.2,1.42],[2.58,1.4],[3,1.42],[1.85,1.4],[1.75,1.38],[2,1.35],[2.15,1.32],[1.7,1.48],[1.55,1.55],[1.65,1.35],[2.84,1.31],[2.55,1.35],[1.4,1.85],[1.5,1.8],[1.35,1.7],[1.45,1.6],[1.6,1.62],[1.5,1.45]];
const greenD=[[-4.57,2.54],[-1.98,3.25],[-1.32,3.24],[-1.17,3.19],[-1,2.7],[-1.13,2.68],[-1.46,2.62],[-1.05,2.5],[-1.5,2.47],[-1.02,2.44],[-1.27,2.4],[-1.25,2.38],[-1.57,2.37],[-1.03,2.25],[-1.65,2.23],[-1.7,2.2],[-1.1,2.18],[-1.42,2.13],[-1.72,2.12],[-1.8,2.08],[-1.38,2.05],[-1.35,1.98],[-1.72,1.93],[-3.17,1.65],[-2.78,1.78],[-2.53,1.77],[-2.15,1.87],[-1.9,1.9],[-1.5,1.88],[-1.4,1.85],[-1.15,1.9],[-1.05,1.95],[-1.8,1.83],[-1.6,1.82],[-2,1.8],[-1.35,1.78],[-1.2,1.8],[-1.1,1.78],[-1.05,1.82],[-2.3,1.7],[-1.85,1.72],[-1.5,1.72],[-1.25,1.7],[-1.15,1.68],[-2.3,1.6],[-2.1,1.62],[-1.95,1.65],[-1.7,1.65],[-1.55,1.6],[-1.4,1.62],[-1.1,1.6],[-1.03,1.55],[-2.35,1.55],[-2.2,1.5],[-2.05,1.55],[-1.9,1.52],[-1.75,1.55],[-1.6,1.5],[-1.45,1.48],[-1.3,1.5],[-1.15,1.5],[-2.25,1.45],[-2.1,1.42],[-1.95,1.45],[-1.8,1.42],[-1.65,1.45],[-1.5,1.4],[-1.35,1.42],[-1.2,1.42],[-1.05,1.42],[-2.7,1.41],[-2.7,1.35],[-2.3,1.35],[-2.15,1.38],[-2,1.35],[-1.85,1.33],[-1.7,1.35],[-1.55,1.32],[-1.4,1.33],[-1.25,1.35],[-1.1,1.33],[-2.35,1.31],[-1.95,1.31],[-1.3,1.31],[-1.02,1.32],[-2.2,1.33],[-1.45,1.55],[-1.25,1.58],[-1.65,1.72],[-1.35,1.45],[-1.4,1.38],[-1.2,1.36],[-1.15,1.4],[-1.5,1.35],[-1.6,1.38],[-1.75,1.48],[-1.85,1.58],[-1.05,1.7],[-1.12,1.85],[-1.08,1.65],[-1.2,1.58]];
const blackD=[[-.29,5.52],[-.62,5.18],[-.38,4.68],[.78,4.54],[.82,4.54],[-.73,4.42],[.45,4.35],[.36,4.22],[.53,4.2],[-.58,4.05],[-.45,4.03],[-.35,4.04],[-.23,4.05],[.83,3.92],[.85,3.87],[-.44,3.8],[.26,3.77],[.63,3.78],[-.82,3.71],[-.62,3.7],[-.57,3.68],[-.5,3.66],[-.42,3.66],[.42,3.62],[.37,3.6],[-.21,3.63],[-.2,3.6],[-.58,3.6],[-.5,3.5],[-.37,3.45],[-.3,3.45],[-.24,3.45],[.26,3.47],[.45,3.47],[-.7,3.35],[-.5,3.4],[-.35,3.38],[-.3,3.33],[-.18,3.4],[.35,3.33],[.55,3.35],[-.7,3.25],[-.45,3.3],[-.35,3.25],[.35,3.2],[-.52,3.15],[-.4,3.18],[-.2,3.18],[.4,3.18],[.62,3.15],[.8,3.17],[-.8,3.05],[-.65,3.12],[-.55,3.05],[.65,3.1],[.95,3.08],[.45,3.05],[.5,3],[.8,3.04],[.87,3],[-.93,2.98],[-.85,2.9],[-.7,2.95],[.35,2.97],[.42,2.95],[.6,2.95],[.7,2.92],[-.7,2.85],[-.85,2.8],[-.6,2.75],[.35,2.85],[.4,2.8],[.55,2.75],[.75,2.8],[.05,2.75],[.25,2.75],[-.97,2.7],[-.75,2.7],[-.65,2.65],[.3,2.65],[.5,2.65],[.65,2.65],[.85,2.7],[.8,2.6],[-.85,2.55],[-.7,2.6],[-.62,2.5],[.2,2.55],[.45,2.55],[.7,2.55],[.9,2.5],[-.9,2.45],[-.75,2.4],[-.65,2.3],[.15,2.4],[.3,2.45],[.55,2.45],[.75,2.42],[.95,2.4],[-.85,2.25],[-.72,2.2],[-.9,2.15],[.12,2.3],[.25,2.3],[.45,2.3],[.65,2.3],[.85,2.3],[.95,2.2],[.1,2.15],[.25,2.15],[.05,2.05],[.75,2.15],[.9,2.1],[.6,2.15],[.4,2.2],[.55,2.05],[.7,2.02],[.35,2.05],[-3.2,1.16],[-2.88,1.13],[-2.7,1.28],[-2.65,1.2],[-2.6,1.12],[-2.45,1.2],[-2.4,1.15],[-2.3,1.1],[-2.2,1.25],[-2.15,1.1],[-2.05,1.05],[-2.2,1],[-2.1,.95],[-2,.9],[-1.85,.95],[-1.75,.9],[-1.6,1.05],[-1.5,1],[-1.4,1.05],[-1.3,1.2],[-1.2,1.1],[-1.1,1.2],[-1.75,1.2],[-1.9,1.2],[-1.6,1.2],[-1.45,1.15],[-2.3,.99],[-1.9,1.1],[-2.15,.87],[-1.85,.78],[-1.65,.85],[-1.5,.9],[-1.35,.95],[-1.2,.95],[-1.1,1],[-1.4,.8],[-1.3,.8],[-1.15,.85],[-1.05,.85],[-1.4,.72],[-1.25,.68],[-1.1,.72],[-1.9,.64],[-1.9,.62],[-1.62,.61],[-1.4,.6],[-1.2,.55],[-1.05,.6],[-2.35,.44],[-1.4,.44],[-1.1,.42],[-1,.45],[-1.2,.35],[-1.05,.33],[-2.7,.28],[-2.2,.29],[-1.72,.32],[-1.68,.28],[-1.62,.26],[-1.5,.22],[-1.9,.23],[-1.2,.25],[-1,.27],[-.9,.2],[-.85,.18],[-.75,.12],[-.9,.35],[-.95,.5],[-2.55,1.25],[-2.35,1.27],[-2.05,1.25],[-1.55,1.27],[-1.4,1.25],[-1.25,1.27],[-1.15,1.15],[-1.35,1.12],[-1.8,1.08],[-2,1.15],[3.5,1.27],[2.9,1.28],[2.5,1.27],[2.2,1.3],[1.9,1.25],[1.7,1.27],[1.5,1.28],[2.1,1.2],[2,1.15],[1.8,1.18],[1.6,1.2],[2.3,1.22],[2.6,1.25],[3.08,1.03],[2.1,1.1],[2.3,1.1],[2.6,1.03],[1.9,1.05],[1.7,1.1],[1.5,1.12],[2.45,1],[2.4,.92],[2.85,.89],[2.2,.98],[2,.95],[1.8,.95],[1.6,.98],[4.13,.89],[2.2,.8],[2.7,.8],[2.5,.75],[2.45,.72],[2.1,.75],[1.95,.72],[1.75,.75],[1.55,.85],[1.45,.95],[1.4,.8],[1.6,.7],[1.8,.68],[1.5,.6],[1.3,.7],[2,.58],[1.9,.52],[1.5,.52],[1.4,.45],[1.3,.5],[1.1,.5],[1.2,.42],[1.55,.45],[1.15,.3],[1.25,.18],[1,.3],[.85,.2],[.7,.15],[.55,.1],[1.3,1.2],[1.35,1.05],[1.3,.9],[1.25,.8],[1.2,.65]];

// ---------- textures (style only) ----------
const stripeAlphas=[.1,.35,.5,.2,.05,.3,.45,.15,.4,.55,.25,.1,.35,.2,.5,.3,.05,.4,.25,.15,.55,.35,.1,.3,.45,.2,.05,.5,.15,.35,.25,.4,.1,.3,.55,.2,.05,.45,.35,.15,.25,.5,.1,.4,.3,.2,.35];
const hairRows=[1,1,0,1,0,1,1,1,0,1,1,0,0,1,1,0,1,1,1,0,1,0,1];
const stippleDots=[[4,5],[13,3],[24,6],[34,4],[8,13],[19,12],[29,14],[37,12],[3,21],[14,20],[24,22],[33,20],[9,29],[20,28],[30,30],[37,27],[4,36],[15,35],[25,37],[34,35],[12,8],[27,25],[6,25],[31,8],[18,33]];
function stripeTile(offset){const c=document.createElement('canvas');c.width=4;c.height=stripeAlphas.length;const x=c.getContext('2d');stripeAlphas.forEach((_,i)=>{x.fillStyle='rgba(0,0,0,'+stripeAlphas[(i+offset)%stripeAlphas.length]+')';x.fillRect(0,i,4,1);});return {image:c,repeat:'repeat'};}
function hairTile(){const c=document.createElement('canvas');c.width=4;c.height=hairRows.length;const x=c.getContext('2d');hairRows.forEach((v,i)=>{if(v){x.fillStyle='#000';x.fillRect(0,i,4,1);}});return {image:c,repeat:'repeat'};}
function stippleTile(color){const c=document.createElement('canvas');c.width=40;c.height=40;const x=c.getContext('2d');x.fillStyle=color;stippleDots.forEach(([a,b])=>{x.beginPath();x.arc(a,b,2.6,0,6.3);x.fill();});return {image:c,repeat:'repeat'};}

// ---------- helpers ----------
const FONT='"Liberation Sans",Arial,sans-serif';
const grids=[],xAxes=[],yAxes=[],series=[],visualMaps=[];
function addGrid(box,x,y){grids.push(Object.assign({containLabel:false},box));const i=grids.length-1;xAxes.push(Object.assign({gridIndex:i},x));yAxes.push(Object.assign({gridIndex:i},y));return i;}
const hidden=(min,max,inverse)=>({type:'value',show:false,min,max,inverse:!!inverse,splitLine:{show:false}});
function column(pairs){const bands=[];for(let i=0;i<pairs.length;i+=2)bands.push([pairs[i],pairs[i+1]]);bands.sort((a,b)=>a[0]-b[0]);const out=new Array(ROWS).fill(0);bands.forEach((b,k)=>{const end=k+1<bands.length?bands[k+1][0]:ROWS;for(let r=b[0];r<end;r++)out[r]=b[1];});return out;}
const keyColors=['#00ff00','#000000','#ff0000'];
function heat(box,labels,cols,key){
  const rows=[];for(let r=0;r<ROWS;r++)rows.push(String(r));
  const g=addGrid(box,{type:'category',data:labels,axisLine:{show:false},axisTick:{show:false},axisLabel:{interval:0,margin:5,fontFamily:'"Liberation Serif",serif',fontSize:42,color:'#000'},splitLine:{show:false}},{type:'category',data:rows,inverse:true,show:false});
  const data=[];cols.forEach((c,x)=>column(c).forEach((v,r)=>data.push([x,r,v])));
  series.push({type:'heatmap',xAxisIndex:g,yAxisIndex:g,data,progressive:0,silent:true,emphasis:{disabled:true}});
  visualMaps.push({type:'continuous',min:-3,max:3,seriesIndex:series.length-1,calculable:false,hoverLink:false,orient:'horizontal',left:key.left,top:key.top,itemWidth:key.h,itemHeight:key.w,padding:0,text:null,showLabel:false,inRange:{color:keyColors}});
  const tiles=labels.map((_,i)=>stripeTile(i*7+(key.left>500?3:0)));
  series.push({type:'custom',xAxisIndex:g,yAxisIndex:g,silent:true,z:5,clip:true,data:labels.map((_,i)=>[i,0]),renderItem:(p,api)=>{
    const i=api.value(0),cs=p.coordSys,w=cs.width/labels.length;
    return {type:'rect',shape:{x:cs.x+i*w,y:cs.y,width:w,height:cs.height},style:{fill:tiles[i]}};}});
  const k=addGrid({left:key.left,top:key.top,width:key.w,height:key.h},{type:'value',min:-3,max:3,interval:1,position:'bottom',axisLine:{show:true,lineStyle:{color:'#000',width:1.5}},axisTick:{show:true,length:12,lineStyle:{color:'#000'}},axisLabel:{margin:26,fontFamily:FONT,fontSize:18,color:'#111'},splitLine:{show:false},name:'Value',nameLocation:'middle',nameGap:55,nameTextStyle:{fontFamily:FONT,fontSize:19,color:'#111'}},hidden(0,1));
  series.push({type:'scatter',xAxisIndex:k,yAxisIndex:k,data:[],silent:true});
}
function sideBar(box,groups,vals){
  const g=addGrid(box,{type:'category',data:groups.map((_,i)=>i),show:false},hidden(0,1));
  series.push({type:'bar',xAxisIndex:g,yAxisIndex:g,barWidth:'101%',silent:true,data:vals.map((v,i)=>({value:v,itemStyle:{color:groups[i]==='O'?'#ff0000':'#00ffff'}}))});
}
function colTree(box,tree){
  const g=addGrid(box,hidden(-.5,5.5),hidden(0,1));
  series.push({type:'custom',xAxisIndex:g,yAxisIndex:g,silent:true,data:tree,renderItem:(p,api)=>{
    const a=api.coord([api.value(0),api.value(1)]),b=api.coord([api.value(0),api.value(4)]),c=api.coord([api.value(2),api.value(4)]),d=api.coord([api.value(2),api.value(3)]);
    return {type:'polyline',shape:{points:[a,b,c,d]},style:{fill:null,stroke:'#000',lineWidth:1.5}};}});
}
function rowTree(box,tree,leaves,xMax,yMax,edge){
  const g=addGrid(box,hidden(0,xMax),hidden(0,yMax,true));
  const hair=hairTile(),reach=65;
  series.push({type:'custom',xAxisIndex:g,yAxisIndex:g,silent:true,z:3,data:leaves,renderItem:(p,api)=>{
    const n=leaves[p.dataIndex+1];if(!n)return null;
    const y0=api.value(0),x0=api.value(1);
    return {type:'group',children:[
      {type:'polygon',shape:{points:[api.coord([x0-reach,y0]),api.coord([n[1]-reach,n[0]]),api.coord([n[1],n[0]]),api.coord([x0,y0])]},style:{fill:hair}},
      {type:'polygon',shape:{points:[api.coord([x0,y0]),api.coord([n[1],n[0]]),api.coord([edge,n[0]]),api.coord([edge,y0])]},style:{fill:'#000',stroke:'#000',lineWidth:.5}}]};}});
  series.push({type:'custom',xAxisIndex:g,yAxisIndex:g,silent:true,z:2,data:tree,renderItem:(p,api)=>{
    const x=api.value(0),y1=api.value(1),x1=api.value(2),y2=api.value(3),x2=api.value(4);
    return {type:'polyline',shape:{points:[api.coord([x1,y1]),api.coord([x,y1]),api.coord([x,y2]),api.coord([x2,y2])]},style:{fill:null,stroke:'#000',lineWidth:1.5}};}});
}
function bandSeries(g,rows,fill,z,cells){
  const solid=typeof fill==='string';
  series.push({type:'custom',xAxisIndex:g,yAxisIndex:g,silent:true,z,data:rows,renderItem:(p,api)=>{
    const n=rows[p.dataIndex+1];if(!n)return null;const r=rows[p.dataIndex];
    const kids=cells.map(([l,h])=>({type:'polygon',shape:{points:[api.coord([r[l],r[0]]),api.coord([n[l],n[0]]),api.coord([n[h],n[0]]),api.coord([r[h],r[0]])]},style:solid?{fill,stroke:fill,lineWidth:.5}:{fill}}));
    return {type:'group',children:kids};}});
}
function volcano(box,xr,yr,core,halo,redCore,redHalo,greenHalo,black,red,green){
  const minus=v=>v<0?'\u2212'+(-v):String(v);
  const line={show:true,onZero:false,lineStyle:{color:'#333',width:1}};
  const g=addGrid(Object.assign({show:true,borderColor:'#333',borderWidth:1,backgroundColor:'#fff'},box),
   {type:'value',min:xr[0],max:xr[1],axisLine:line,axisTick:{show:true,length:9,customValues:ticksX,lineStyle:{color:'#333'}},axisLabel:{customValues:ticksX,margin:16,fontFamily:FONT,fontSize:15,color:'#222',formatter:minus},splitLine:{show:false},name:'log2(Fold Change)',nameLocation:'middle',nameGap:46,nameTextStyle:{fontFamily:FONT,fontSize:20,color:'#111'}},
   {type:'value',min:yr[0],max:yr[1],axisLine:line,axisTick:{show:true,length:9,customValues:ticksY,lineStyle:{color:'#333'}},axisLabel:{customValues:ticksY,rotate:90,margin:18,fontFamily:FONT,fontSize:15,color:'#222'},splitLine:{show:false},name:'\u2212log10(Pvalue)',nameLocation:'middle',nameGap:49,nameRotate:90,nameTextStyle:{fontFamily:FONT,fontSize:20,color:'#111'}});
  series.push({type:'scatter',xAxisIndex:g,yAxisIndex:g,data:[],silent:true,z:1,markLine:{silent:true,symbol:'none',animation:false,label:{show:false},lineStyle:{color:'#bdbdbd',type:'solid',width:1},data:[{xAxis:foldCut[0]},{xAxis:foldCut[1]},{yAxis:pCut}]}});
  bandSeries(g,halo,stippleTile('#000'),2,[[1,2],[3,4]]);
  bandSeries(g,redHalo,stippleTile('#ff0000'),2,[[1,2]]);
  if(greenHalo)bandSeries(g,greenHalo,stippleTile('#00ff00'),2,[[1,2]]);
  bandSeries(g,core,'#000',3,[[1,2],[3,4]]);
  bandSeries(g,redCore,'#ff0000',3,[[1,2]]);
  const pts=(d,c,z)=>series.push({type:'scatter',xAxisIndex:g,yAxisIndex:g,data:d,symbolSize:5.5,z,silent:true,itemStyle:{color:c,opacity:1}});
  pts(black,'#000',4);pts(red,'#ff0000',5);pts(green,'#00ff00',5);
}

// ---------- layout ----------
heat({left:325,top:229.5,width:733,height:1167.5},samplesA,[A_O1,A_O2,A_O3,A_H1,A_H2,A_H3],{left:80,top:2,w:222,h:51});
heat({left:1505,top:231,width:733,height:1167},samplesB,[B_H1,B_H2,B_H3,B_O1,B_O2,B_O3],{left:1259,top:3,w:223,h:53});
sideBar({left:325,top:167,width:733,height:52},groupsA,sideValues);
sideBar({left:1505,top:168,width:733,height:53},groupsB,sideValues);
colTree({left:325,top:83,width:733,height:81},colTreeA);
colTree({left:1505,top:85,width:733,height:81},colTreeB);
rowTree({left:0,top:220,width:320,height:1190},rowTreeA,leavesA,960,3570,939);
rowTree({left:1170,top:220,width:330,height:1190},rowTreeB,leavesB,990,3110,970);
volcano({left:250,top:1532,width:806,height:744},[-7.57,7.57],[-.226,5.88],coreC,haloC,redCoreC,redHaloC,null,blackC,redC,greenC);
volcano({left:1430,top:1532,width:807,height:739},[-7.56,7.57],[-.215,5.75],coreD,haloD,redCoreD,redHaloD,greenHaloD,blackD,redD,greenD);

const txt=(x,y,text,size,weight,align)=>({type:'text',x,y,silent:true,style:{text,fontFamily:FONT,fontSize:size,fontWeight:weight||'normal',fill:'#000',align:align||'center',verticalAlign:'middle'}});
const graphic=[
 txt(20,23,'A',36,'bold'),txt(1183,23,'B',36,'bold'),txt(18,1527,'C',36,'bold'),txt(1290,1527,'D',36,'bold'),
 txt(690,32,'lncRNA',30,'bold'),txt(1871,33,'mRNA',30,'bold'),
 txt(653,1486,'Volcano Plot',28,'bold'),txt(1834,1486,'Volcano Plot',28,'bold'),
 txt(971,2103,'p.value = 0.05',14),txt(2153,2096,'p.value = 0.05',14)
];

echarts.init(document.getElementById('c'),null,{renderer:'canvas'}).setOption({
  animation:false,backgroundColor:'#fff',tooltip:{show:false},
  grid:grids,xAxis:xAxes,yAxis:yAxes,visualMap:visualMaps,series,graphic
});
</script></body></html>
